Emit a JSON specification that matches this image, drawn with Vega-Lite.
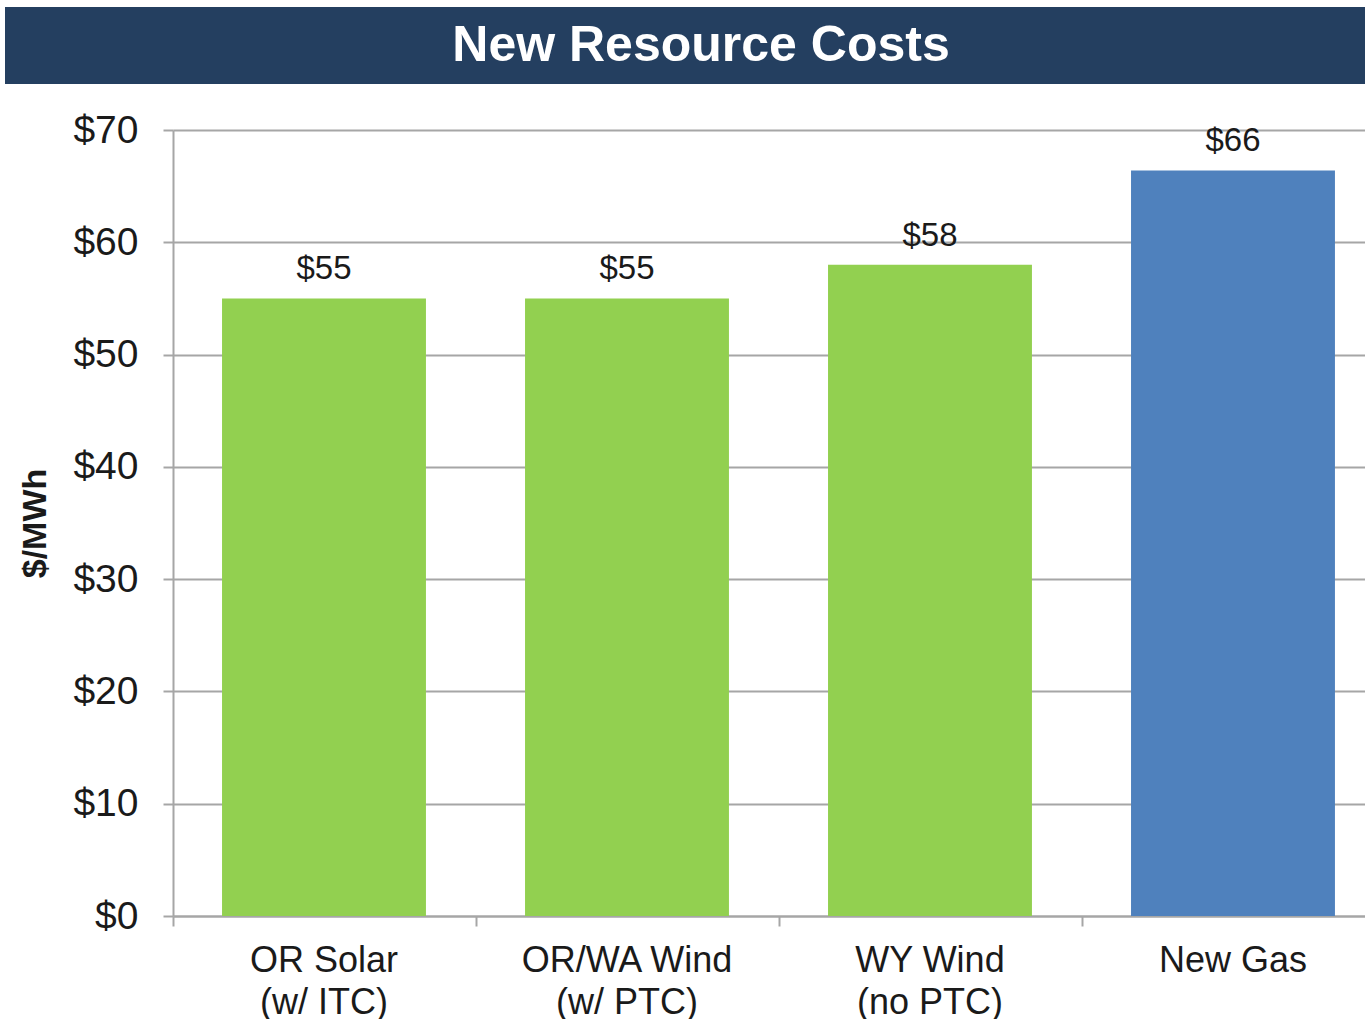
{
  "$schema": "https://vega.github.io/schema/vega-lite/v6.json",
  "padding": {"left": 5, "top": 7, "right": 0, "bottom": 0},
  "background": "white",
  "config": {"view": {"stroke": null}, "font": "Liberation Sans"},
  "spacing": 27,
  "vconcat": [
    {
      "width": 1360,
      "height": 77,
      "view": {"fill": "#243f60", "stroke": null},
      "data": {"values": [{"title": "New Resource Costs"}]},
      "mark": {"type": "text", "color": "white", "fontSize": 50, "fontWeight": "bold", "font": "Liberation Sans", "dx": 16, "dy": 0, "baseline": "middle", "align": "center"},
      "encoding": {"text": {"field": "title"}}
    },
    {
      "spacing": 0,
      "hconcat": [
        {
          "width": 13,
          "height": 786,
          "data": {"values": [{"blank": ""}]},
          "mark": {"type": "text"},
          "encoding": {"text": {"field": "blank"}}
        },
        {
          "width": 1192,
          "height": 786,
          "data": {
            "values": [
              {"resource": "OR Solar|(w/ ITC)", "cost": 55, "kind": "renewable"},
              {"resource": "OR/WA Wind|(w/ PTC)", "cost": 55, "kind": "renewable"},
              {"resource": "WY Wind|(no PTC)", "cost": 58, "kind": "renewable"},
              {"resource": "New Gas", "cost": 66.4, "kind": "gas"}
            ]
          },
          "encoding": {
            "y": {
              "field": "cost",
              "type": "quantitative",
              "scale": {"domain": [0, 70], "nice": false},
              "axis": {
                "values": [0, 10, 20, 30, 40, 50, 60, 70],
                "format": "$.0f",
                "labelFontSize": 39,
                "labelFont": "Liberation Sans",
                "labelColor": "#1a1a1a",
                "labelPadding": 25,
                "tickSize": 10,
                "tickColor": "#a6a6a6",
                "tickWidth": 2,
                "domainColor": "#a6a6a6",
                "domainWidth": 2,
                "gridColor": "#a6a6a6",
                "gridWidth": 2,
                "title": "$/MWh",
                "titleFont": "Liberation Sans",
                "titleFontSize": 34,
                "titleFontWeight": "bold",
                "titleColor": "#1a1a1a",
                "titlePadding": 20
              }
            }
          },
          "layer": [
            {
              "mark": {"type": "bar"},
              "encoding": {
                "x": {
                  "field": "resource",
                  "type": "nominal",
                  "sort": null,
                  "scale": {"paddingInner": 0.327, "paddingOuter": 0.1305, "align": 0.62},
                  "axis": {
                    "title": null,
                    "labelExpr": "split(datum.label, '|')",
                    "labelAngle": 0,
                    "labelFontSize": 36,
                    "labelFont": "Liberation Sans",
                    "labelColor": "#1a1a1a",
                    "labelLineHeight": 42,
                    "labelPadding": 27,
                    "labelLimit": 400,
                    "ticks": false,
                    "domainColor": "#a6a6a6",
                    "domainWidth": 2,
                    "grid": false
                  }
                },
                "color": {
                  "field": "kind",
                  "type": "nominal",
                  "scale": {"domain": ["renewable", "gas"], "range": ["#92d050", "#4f81bd"]},
                  "legend": null
                }
              }
            },
            {
              "mark": {"type": "text", "dy": -19, "baseline": "alphabetic", "fontSize": 33, "font": "Liberation Sans", "color": "#1a1a1a"},
              "encoding": {
                "x": {
                  "field": "resource",
                  "type": "nominal",
                  "sort": null,
                  "axis": {
                    "orient": "bottom",
                    "bandPosition": 0,
                    "tickOffset": -49.5,
                    "labels": false,
                    "domain": false,
                    "ticks": true,
                    "tickSize": 10,
                    "tickColor": "#a6a6a6",
                    "tickWidth": 2,
                    "title": null,
                    "grid": false
                  }
                },
                "text": {"field": "cost", "type": "quantitative", "format": "$.0f"}
              }
            }
          ],
          "resolve": {"axis": {"x": "independent"}}
        }
      ]
    }
  ]
}
